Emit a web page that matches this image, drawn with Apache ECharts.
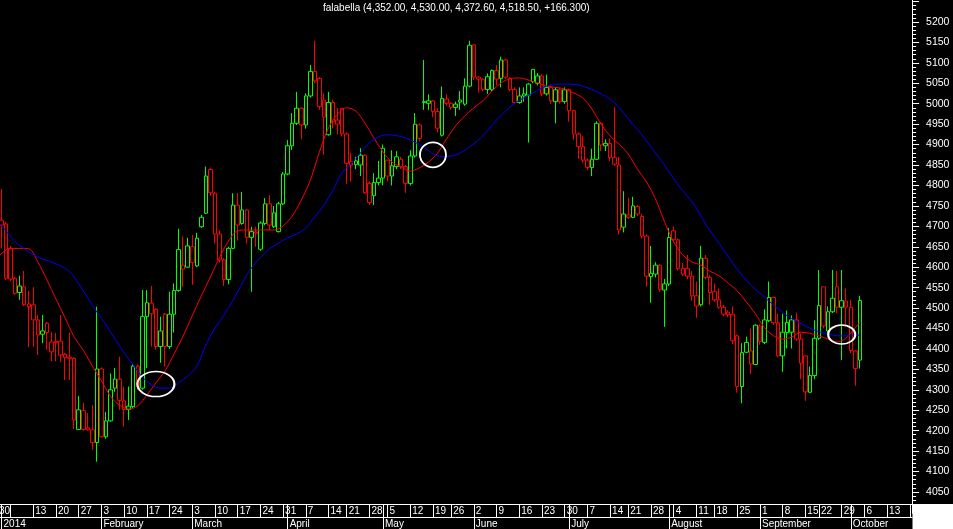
<!DOCTYPE html>
<html><head><meta charset="utf-8">
<script src="https://cdn.jsdelivr.net/npm/echarts@6/dist/echarts.min.js"></script>
<style>html,body{margin:0;padding:0;background:#000;}#c{width:953px;height:529px;}</style>
</head><body><div id="c"></div>
<script>
// ---------- data ----------
const titleText = 'falabella (4,352.00, 4,530.00, 4,372.60, 4,518.50, +166.300)';
const startDate = '2013-12-30';
const endDate = '2014-10-20';
const holidays = ['2013-12-31','2014-01-01','2014-04-18','2014-05-01','2014-05-21','2014-07-16','2014-08-15','2014-09-18','2014-09-19'];
const hiddenDayLabels = ['2014-01-06'];
const monthLabels = ['2014','February','March','April','May','June','July','August','September','October','November','December'];

const opens = [4700,4715,4706,4646,4573,4538,4552,4510,4508,4471,4436,4463,4393,4418,4419,4387,4380,4377,4203,4249,
4207,4202,4171,4351,4185,4224,4304,4326,4273,4252,4259,4358,4304,4479,4512,4497,4406,4485,4406,4485,
4543,4605,4600,4650,4603,4699,4732,4839,4781,4681,4618,4570,4646,4752,4707,4740,4673,4686,4644,4707,
4755,4699,4687,4755,4828,4897,4952,4989,4948,5019,5079,5062,5009,4924,5003,4960,4988,4926,4858,4851,
4850,4874,4805,4775,4807,4818,4862,4823,4846,4864,4846,4805,4872,4948,5003,5001,5007,4981,4923,5011,
5001,4991,5004,4999,5043,5144,5065,5060,5035,5034,5081,5062,5107,5062,5035,5003,5019,5021,5084,5050,
5068,5024,5040,5005,5034,5005,5034,4983,4926,4895,4862,4844,4864,4952,4897,4903,4868,4850,4698,4728,
4722,4748,4724,4676,4577,4583,4605,4544,4559,4689,4667,4597,4597,4578,4530,4508,4622,4575,4540,4520,
4502,4490,4485,4432,4308,4392,4395,4362,4456,4416,4469,4526,4464,4383,4440,4441,4471,4424,4383,4294,
4335,4426,4552,4444,4491,4552,4502,4502,4502,4395,4372.6];
const highs = [4735,4791,4711,4652,4576,4579,4591,4542,4551,4483,4483,4466,4441,4439,4483,4390,4440,4380,4285,4268,
4243,4263,4503,4355,4246,4340,4353,4381,4308,4308,4363,4362,4544,4544,4554,4500,4479,4488,4540,4560,
4694,4675,4672,4679,4684,4728,4846,4844,4785,4690,4622,4650,4781,4781,4784,4742,4699,4699,4712,4769,
4776,4750,4760,4833,4911,4977,5029,4991,5025,5095,5154,5065,5025,5029,5010,4990,4990,4930,4880,4870,
4891,4876,4810,4830,4860,4900,4862,4886,4884,4870,4850,4886,4977,4952,5107,5023,5009,4990,5042,5023,
5003,5005,5031,5062,5154,5146,5067,5062,5074,5084,5095,5115,5110,5065,5040,5040,5040,5050,5085,5075,
5072,5071,5045,5040,5038,5040,5037,4985,4930,4920,4866,4890,4957,4955,4913,4915,4991,4870,4786,4770,
4772,4752,4730,4680,4652,4612,4608,4571,4696,4700,4670,4610,4630,4590,4565,4652,4630,4580,4560,4548,
4508,4495,4504,4435,4414,4430,4450,4460,4460,4497,4565,4528,4486,4486,4494,4482,4489,4438,4383,4357,
4470,4593,4552,4504,4593,4591,4593,4548,4520,4396,4530];
const lows = [4690,4646,4569,4566,4532,4520,4505,4404,4405,4385,4414,4398,4370,4370,4368,4324,4324,4204,4202,4200,
4200,4153,4124,4183,4180,4222,4295,4251,4210,4226,4255,4300,4300,4353,4406,4398,4366,4357,4400,4440,
4540,4552,4598,4557,4600,4696,4730,4775,4658,4611,4554,4558,4644,4665,4704,4658,4540,4650,4640,4703,
4691,4696,4685,4752,4825,4887,4948,4913,4939,5015,5050,4985,4875,4922,4940,4925,4920,4804,4810,4840,
4823,4780,4752,4752,4800,4800,4810,4800,4840,4840,4782,4800,4868,4907,4985,4985,4967,4930,4920,4995,
4985,4970,4985,4995,5040,5058,5027,5030,5024,5030,5045,5040,5060,5030,5000,5000,5005,4905,5050,5045,
5018,5020,5000,4952,5000,5000,4956,4912,4865,4855,4838,4823,4862,4884,4884,4860,4848,4680,4685,4718,
4720,4725,4670,4552,4513,4575,4540,4454,4554,4660,4592,4578,4570,4518,4476,4504,4570,4508,4515,4498,
4480,4478,4412,4293,4267,4390,4339,4360,4410,4412,4466,4459,4380,4344,4401,4401,4420,4326,4273,4292,
4326,4422,4450,4438,4488,4487,4373,4455,4390,4310,4352];
const closes = [4722,4703,4573,4571,4536,4554,4508,4503,4471,4434,4444,4440,4417,4415,4385,4379,4377,4226,4251,4203,
4202,4171,4351,4185,4224,4300,4326,4274,4252,4260,4358,4308,4479,4513,4486,4406,4444,4406,4485,4543,
4643,4595,4652,4611,4671,4722,4823,4782,4681,4618,4570,4646,4752,4703,4740,4673,4687,4683,4708,4755,
4703,4733,4755,4828,4897,4952,4989,4948,5019,5079,5056,4993,4967,5003,4956,4950,4926,4854,4850,4860,
4874,4782,4758,4807,4818,4891,4823,4848,4870,4846,4805,4872,4950,4915,5005,5007,4981,4940,5013,5001,
4991,4999,5009,5043,5143,5065,5060,5035,5066,5081,5060,5107,5065,5035,5003,5019,5024,5048,5054,5068,
5024,5040,5007,5034,5005,5034,4983,4926,4895,4862,4844,4864,4952,4899,4903,4868,4852,4691,4730,4722,
4750,4730,4676,4578,4585,4605,4546,4559,4673,4667,4597,4583,4578,4530,4505,4622,4575,4538,4520,4502,
4485,4484,4420,4308,4391,4416,4363,4458,4418,4471,4526,4464,4383,4441,4465,4471,4424,4365,4295,4335,
4426,4506,4456,4491,4524,4502,4518,4517,4396,4352.2,4518.5];

// moving averages: [trading-day index, value]
const redMA = [[0,4622],[3,4646],[5,4646],[7,4645],[9,4613],[11,4569],[13,4522],[15,4476],[17,4429],[19,4397],
[21,4358],[23,4322],[25,4284],[27,4262],[29,4253],[31,4261],[33,4287],[35,4317],[37,4346],[39,4388],
[41,4432],[43,4481],[45,4530],[47,4576],[49,4624],[51,4664],[53,4689],[55,4691],[57,4691],[59,4691],
[61,4691],[63,4701],[65,4725],[67,4764],[69,4813],[71,4882],[73,4941],[75,4975],[77,4990],[79,4982],
[81,4953],[83,4916],[85,4882],[87,4857],[89,4845],[91,4835],[93,4843],[95,4857],[97,4879],[99,4914],
[101,4946],[103,4970],[105,4990],[107,5007],[109,5031],[111,5051],[113,5061],[115,5063],[117,5058],[119,5051],
[121,5043],[123,5040],[125,5036],[127,5026],[129,5014],[131,4987],[133,4950],[135,4921],[137,4901],[139,4877],
[141,4840],[143,4809],[145,4767],[147,4711],[149,4662],[151,4630],[153,4613],[155,4605],[157,4590],[159,4579],
[161,4561],[163,4542],[165,4515],[167,4486],[169,4452],[171,4432],[173,4424],[175,4429],[177,4441],[179,4438],
[181,4432],[183,4424],[185,4417],[187,4427],[189,4452],[190,4464]];
const blueMA = [[0,4711],[2,4689],[4,4662],[6,4645],[8,4630],[10,4620],[12,4613],[14,4603],[16,4589],[18,4559],
[20,4525],[22,4490],[24,4459],[26,4424],[28,4390],[30,4361],[32,4331],[34,4312],[36,4304],[38,4304],
[40,4317],[42,4334],[44,4358],[46,4410],[48,4451],[50,4483],[52,4520],[54,4561],[56,4598],[58,4623],
[60,4645],[62,4659],[64,4672],[66,4681],[68,4696],[70,4723],[72,4752],[74,4789],[76,4831],[78,4853],
[80,4879],[82,4904],[84,4919],[86,4924],[88,4922],[90,4916],[92,4906],[94,4894],[96,4877],[98,4871],
[100,4872],[102,4879],[104,4894],[106,4911],[108,4933],[110,4960],[112,4982],[114,5002],[116,5014],[118,5026],
[120,5039],[122,5046],[124,5048],[126,5048],[128,5046],[130,5039],[132,5030],[134,5018],[136,5002],[138,4977],
[140,4950],[142,4924],[144,4894],[146,4865],[148,4833],[150,4801],[152,4774],[154,4745],[156,4706],[158,4674],
[160,4642],[162,4610],[164,4581],[166,4556],[168,4536],[170,4517],[172,4498],[174,4481],[176,4468],[178,4456],
[180,4446],[182,4439],[184,4434],[186,4432],[188,4432],[190,4434]];
// crossover annotations: [trading-day index, value]
const crossMarks = [[35,4314],[96,4875],[186,4435]];

// ---------- build ----------
const FONT = '"Liberation Sans", Arial, sans-serif';
const GREEN = '#00ff00', RED = '#ff0000';

function buildDays() {
  const out = [];
  let t = Date.parse(startDate + 'T00:00:00Z');
  const end = Date.parse(endDate + 'T00:00:00Z');
  while (t <= end) {
    const d = new Date(t);
    const dow = d.getUTCDay();
    const s = d.toISOString().slice(0, 10);
    if (dow !== 0 && dow !== 6 && holidays.indexOf(s) < 0) out.push(s);
    t += 86400000;
  }
  return out;
}
const days = buildDays();
const weekStart = days.map((s, i) => {
  if (i === 0) return true;
  const a = new Date(days[i - 1] + 'T00:00:00Z'), b = new Date(s + 'T00:00:00Z');
  return b.getUTCDay() <= a.getUTCDay() || (b - a) >= 7 * 86400000;
});
const monthStart = days.map((s, i) => i > 0 && s.slice(5, 7) !== days[i - 1].slice(5, 7));

const candles = opens.map((o, i) => {
  const c = closes[i];
  const col = (i === 0 || c >= closes[i - 1]) ? GREEN : RED;
  return {
    value: [o, c, lows[i], highs[i]],
    itemStyle: { color: '#000', color0: col, borderColor: col, borderColor0: col, borderColorDoji: col }
  };
});
const markSizes = [[37, 25], [26, 25], [27, 19]];

const chart = echarts.init(document.getElementById('c'), null, { renderer: 'canvas' });
chart.setOption({
  animation: false,
  backgroundColor: '#000',
  title: {
    text: titleText, left: 323, top: 3, padding: 0,
    textStyle: { color: '#fff', fontSize: 10, fontWeight: 'normal', fontFamily: FONT }
  },
  grid: { left: -5.3, right: 40.9, top: -18.9, bottom: 16.6, containLabel: false, outerBoundsMode: 'none' },
  xAxis: [
    {
      type: 'category', data: days, position: 'bottom', offset: -8.4, boundaryGap: true,
      axisLine: { show: true, onZero: false, lineStyle: { color: '#fff', width: 1 } },
      axisTick: { show: true, alignWithLabel: true, interval: (i) => weekStart[i], length: 13, lineStyle: { color: '#fff', width: 1 } },
      axisLabel: {
        show: true, interval: (i) => weekStart[i], color: '#fff', fontSize: 10, fontFamily: FONT,
        align: 'left', verticalAlign: 'top', margin: 2, padding: [0, 0, 0, 2],
        formatter: (v) => hiddenDayLabels.indexOf(v) >= 0 ? '' : String(parseInt(v.slice(8), 10))
      },
      splitLine: { show: false }
    },
    {
      type: 'category', data: days, position: 'bottom', offset: -8.4, boundaryGap: true,
      axisLine: { show: false, onZero: false },
      axisTick: { show: true, alignWithLabel: true, interval: (i) => monthStart[i], length: 25, lineStyle: { color: '#fff', width: 1 } },
      axisLabel: {
        show: true, interval: (i) => monthStart[i], color: '#fff', fontSize: 10, fontFamily: FONT,
        align: 'left', verticalAlign: 'top', margin: 15, padding: [0, 0, 0, 2],
        formatter: (v) => monthLabels[parseInt(v.slice(5, 7), 10) - 1]
      },
      splitLine: { show: false }
    },
    {
      type: 'category', data: days, position: 'bottom', offset: 4.6, boundaryGap: true,
      axisLine: { show: true, onZero: false, lineStyle: { color: '#fff', width: 1 } },
      axisTick: { show: false }, axisLabel: { show: false }, splitLine: { show: false }
    }
  ],
  yAxis: {
    type: 'value', position: 'right', min: 4000, max: 5300, interval: 50, scale: true,
    axisLine: { show: true, lineStyle: { color: '#fff', width: 1 } },
    axisTick: { show: true, length: 7, lineStyle: { color: '#fff' } },
    minorTick: { show: true, splitNumber: 5, length: 4, lineStyle: { color: '#fff' } },
    axisLabel: {
      color: '#fff', fontSize: 10.5, fontFamily: FONT, margin: 14,
      formatter: (v) => (v >= 4050 && v <= 5200) ? String(v) : ''
    },
    splitLine: { show: false }, minorSplitLine: { show: false }
  },
  series: [
    {
      type: 'candlestick', xAxisIndex: 0, data: candles, barWidth: 4, z: 2,
      itemStyle: { borderWidth: 1 }
    },
    {
      type: 'line', xAxisIndex: 0, data: redMA, smooth: 0.35, symbol: 'none', z: 3,
      lineStyle: { color: RED, width: 1 }
    },
    {
      type: 'line', xAxisIndex: 0, data: blueMA, smooth: 0.35, symbol: 'none', z: 3,
      lineStyle: { color: '#0000ff', width: 1 },
      markPoint: {
        symbol: 'circle', silent: true, z: 5,
        itemStyle: { color: 'rgba(0,0,0,0)', borderColor: '#fff', borderWidth: 1.8 },
        label: { show: false },
        data: crossMarks.map((m, k) => ({ coord: [days[m[0]], m[1]], symbolSize: markSizes[k] }))
      }
    }
  ],
  graphic: [
    { type: 'rect', shape: { x: 912.5, y: 504, width: 41, height: 25 }, style: { fill: '#fff' }, z: 100 }
  ]
});
</script>
</body></html>
